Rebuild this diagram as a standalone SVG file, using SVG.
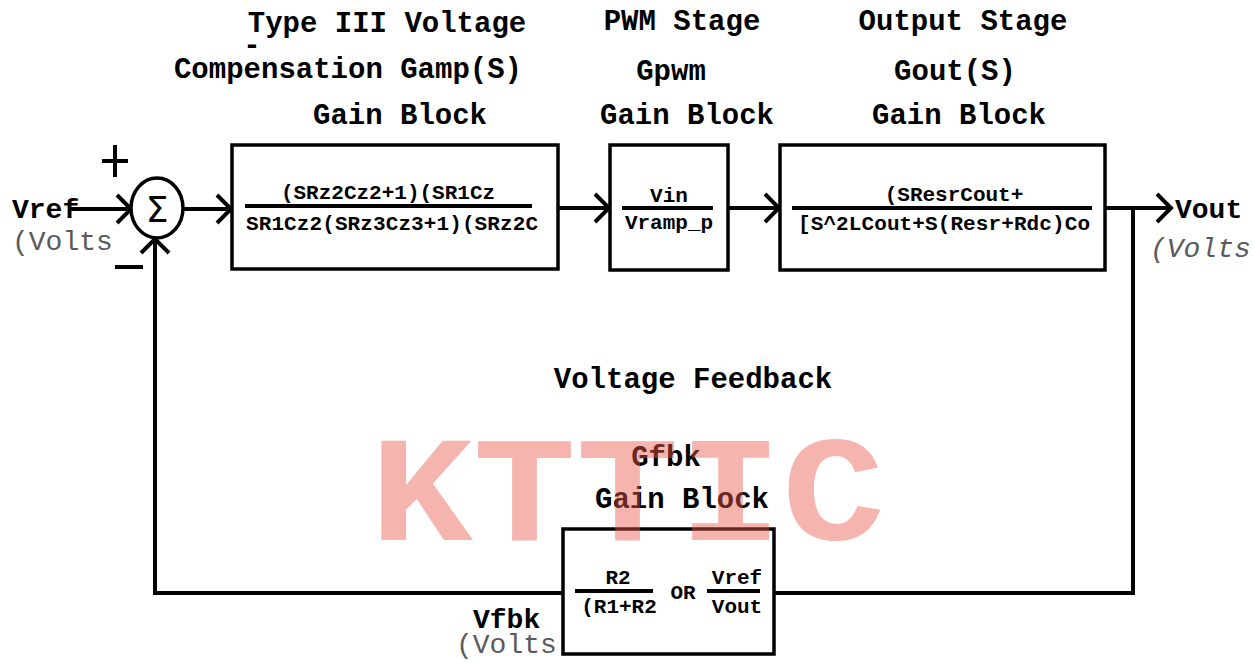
<svg xmlns="http://www.w3.org/2000/svg" width="1255" height="663" viewBox="0 0 1255 663">
<style>
.box{fill:#fff;stroke:#000;stroke-width:3.5}
.ln{fill:none;stroke:#000;stroke-width:4}
.fr{stroke:#000;stroke-width:4}
.h{font-family:"Liberation Mono","Courier New",monospace;font-weight:bold;font-size:29px;fill:#000;text-anchor:middle}
.t{font-family:"Liberation Mono","Courier New",monospace;font-weight:bold;font-size:21px;fill:#000}
.lb{font-family:"Liberation Mono","Courier New",monospace;font-weight:bold;font-size:28px;fill:#000}
.g{font-family:"Liberation Mono","Courier New",monospace;font-size:28px;fill:#5a5a5a}
</style>
<defs>
<marker id="chev" viewBox="0 0 16 32" refX="15" refY="16" markerWidth="16" markerHeight="32" orient="auto" markerUnits="userSpaceOnUse" overflow="visible">
<path d="M1,2 L15,16 L1,30" fill="none" stroke="#000" stroke-width="4"/>
</marker>
</defs>
<rect width="1255" height="663" fill="#fff"/>
<g id="headers">
<text class="h" x="387" y="32">Type III Voltage</text>
<text class="h" x="252" y="54" text-anchor="start">-</text>
<text class="h" x="348" y="78">Compensation Gamp(S)</text>
<text class="h" x="400" y="124">Gain Block</text>
<text class="h" x="682" y="30">PWM Stage</text>
<text class="h" x="671" y="80">Gpwm</text>
<text class="h" x="687" y="124">Gain Block</text>
<text class="h" x="963" y="30">Output Stage</text>
<text class="h" x="955" y="80">Gout(S)</text>
<text class="h" x="959" y="124">Gain Block</text>
<text class="h" x="693" y="388">Voltage Feedback</text>
<text class="h" x="666" y="466">Gfbk</text>
<text class="h" x="682" y="508">Gain Block</text>
</g>
<g id="connectors">
<path class="ln" d="M70,209 L131,209" marker-end="url(#chev)"/>
<path class="ln" d="M183,209 L231,209" marker-end="url(#chev)"/>
<path class="ln" d="M558,208 L609,208" marker-end="url(#chev)"/>
<path class="ln" d="M728,208 L779,208" marker-end="url(#chev)"/>
<path class="ln" d="M1105,208 L1171,208" marker-end="url(#chev)"/>
<path class="ln" d="M1133,208 L1133,593 L775,593"/>
<path class="ln" d="M563,593 L155,593 L155,239" marker-end="url(#chev)"/>
</g>
<g id="sum">
<ellipse cx="157" cy="208" rx="26" ry="30" fill="#fff" stroke="#000" stroke-width="3.5"/>
<text x="157" y="222" font-family="DejaVu Sans,sans-serif" font-size="36" text-anchor="middle" fill="#000">Σ</text>
<path class="ln" d="M102,161 L128,161 M115,145 L115,177"/>
<path class="ln" d="M115,267 L143,267"/>
</g>
<g id="vref">
<text class="lb" x="12" y="218">Vref</text>
<text class="g" x="12" y="250">(Volts</text>
</g>
<g id="vout">
<text class="lb" x="1175" y="218">Vout</text>
<text class="g" x="1150" y="257" font-style="italic">(Volts</text>
</g>
<g id="vfbk">
<text class="lb" x="473" y="628">Vfbk</text>
<text class="g" x="456" y="653">(Volts</text>
</g>
<g id="gamp">
<rect class="box" x="232" y="145" width="326" height="124"/>
<line class="fr" x1="245" y1="206" x2="532" y2="206"/>
<text class="t" x="388" y="199" text-anchor="middle">(SRz2Cz2+1)(SR1Cz</text>
<text class="t" x="246" y="230" textLength="292">SR1Cz2(SRz3Cz3+1)(SRz2C</text>
</g>
<g id="gpwm">
<rect class="box" x="610" y="145" width="118" height="125"/>
<line class="fr" x1="622" y1="208" x2="713" y2="208"/>
<text class="t" x="669" y="202" text-anchor="middle">Vin</text>
<text class="t" x="669" y="229" text-anchor="middle">Vramp_p</text>
</g>
<g id="gout">
<rect class="box" x="780" y="145" width="325" height="125"/>
<line class="fr" x1="792" y1="208" x2="1092" y2="208"/>
<text class="t" x="954" y="201" text-anchor="middle">(SResrCout+</text>
<text class="t" x="798" y="230" textLength="292">[S^2LCout+S(Resr+Rdc)Co</text>
</g>
<g id="gfbk">
<rect class="box" x="563" y="529" width="211" height="125"/>
<line class="fr" x1="575" y1="591" x2="653" y2="591"/>
<text class="t" x="618" y="584" text-anchor="middle">R2</text>
<text class="t" x="619" y="613" text-anchor="middle">(R1+R2</text>
<text class="t" x="683" y="599" text-anchor="middle">OR</text>
<line class="fr" x1="707" y1="591" x2="760" y2="591"/>
<text class="t" x="737" y="584" text-anchor="middle">Vref</text>
<text class="t" x="737" y="613" text-anchor="middle">Vout</text>
</g>
<g id="watermark">
<text x="370" y="540" font-family="Liberation Mono,monospace" font-weight="bold" font-size="150" textLength="515" lengthAdjust="spacingAndGlyphs" fill="#e8594a" fill-opacity="0.45">KTTIC</text>
</g>
</svg>
